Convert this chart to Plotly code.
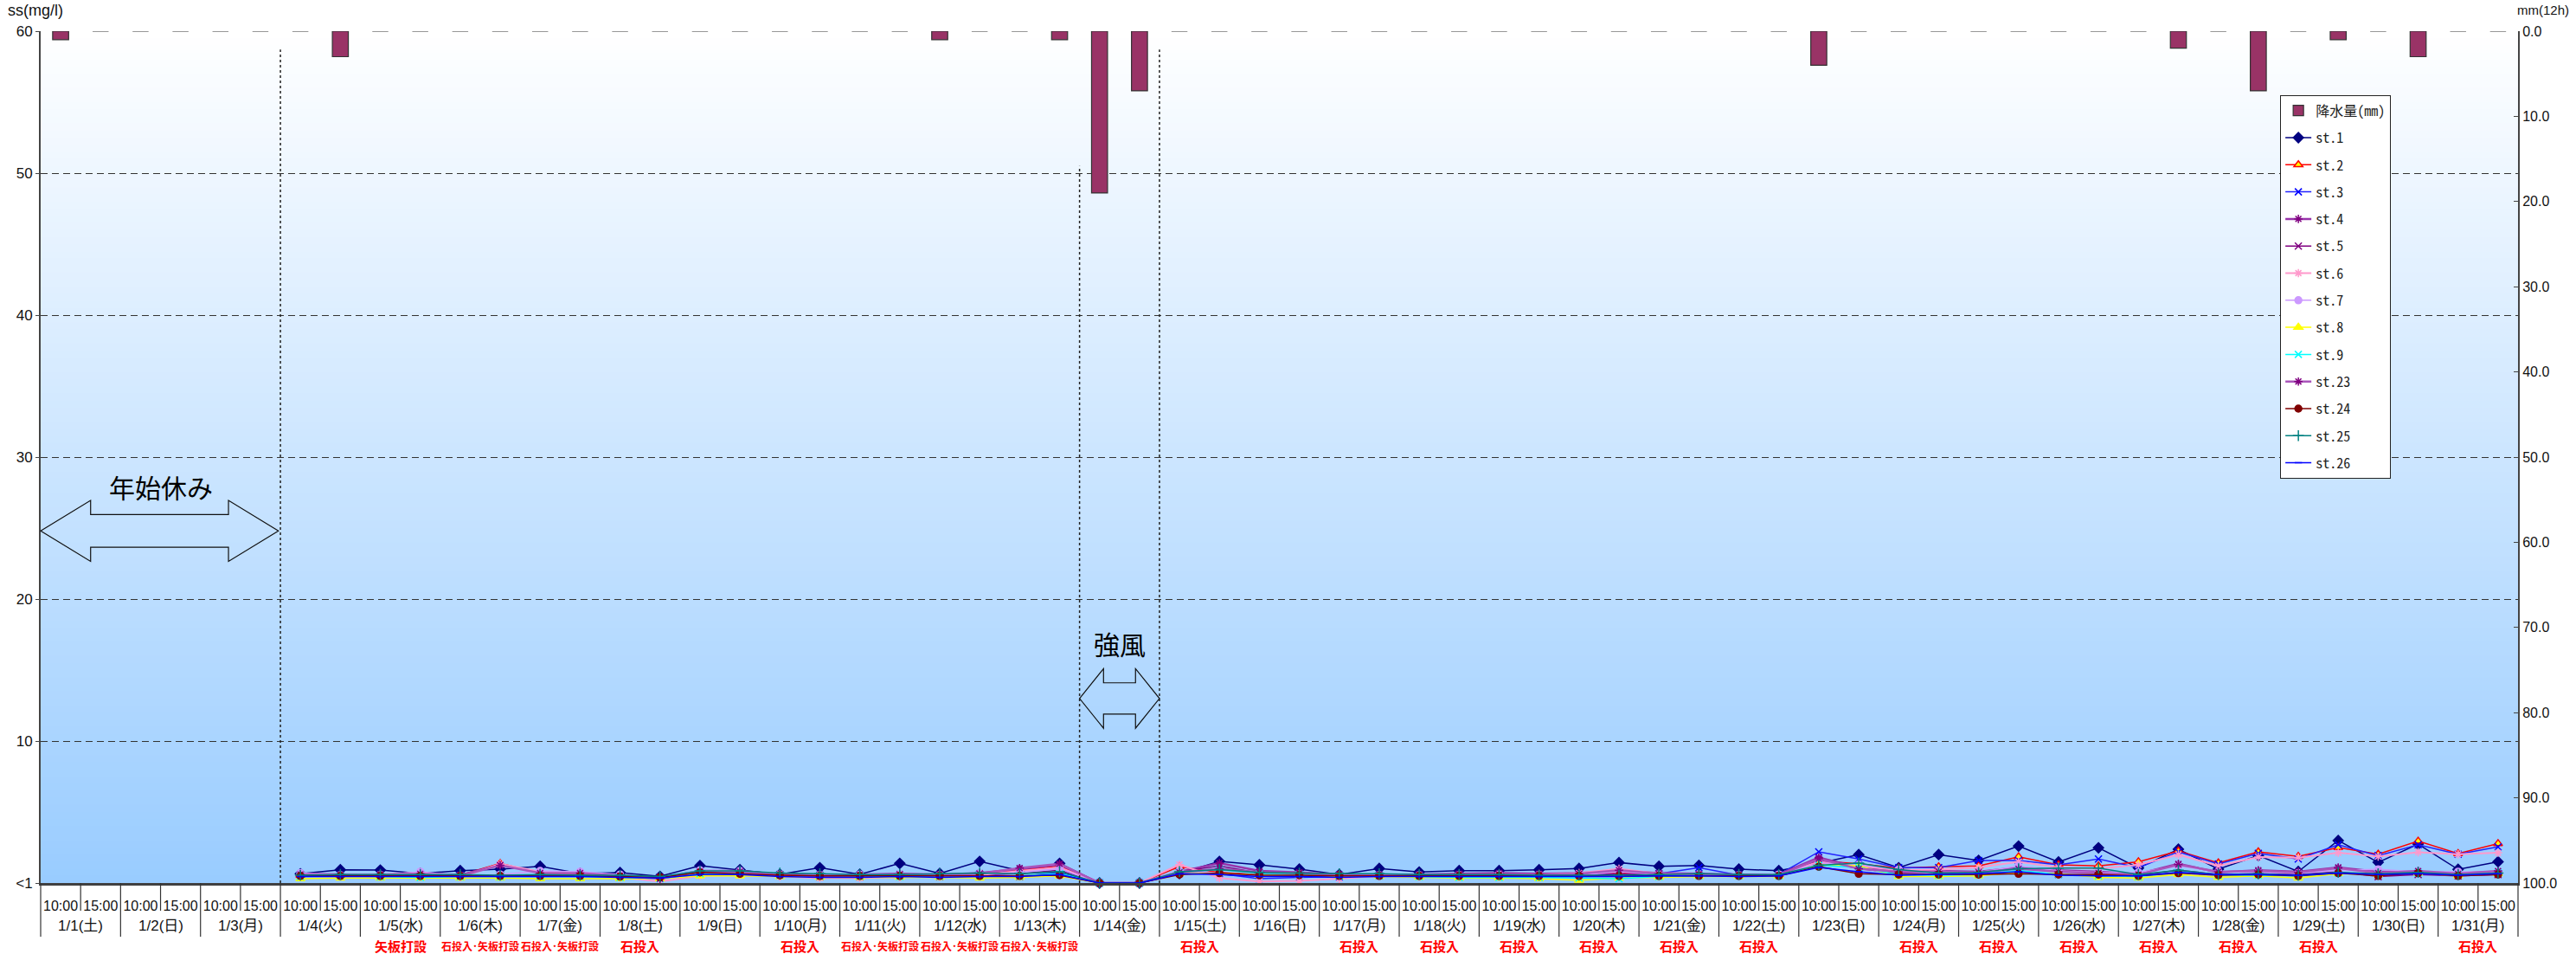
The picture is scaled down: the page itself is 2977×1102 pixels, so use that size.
import plotly.graph_objects as go

# ---------------- data ----------------
dates = ["1/1(土)", "1/2(日)", "1/3(月)", "1/4(火)", "1/5(水)", "1/6(木)", "1/7(金)", "1/8(土)",
         "1/9(日)", "1/10(月)", "1/11(火)", "1/12(水)", "1/13(木)", "1/14(金)", "1/15(土)", "1/16(日)",
         "1/17(月)", "1/18(火)", "1/19(水)", "1/20(木)", "1/21(金)", "1/22(土)", "1/23(日)", "1/24(月)",
         "1/25(火)", "1/26(水)", "1/27(木)", "1/28(金)", "1/29(土)", "1/30(日)", "1/31(月)"]
times = ["10:00", "15:00"]
works = ["", "", "", "", "矢板打設", "石投入･矢板打設", "石投入･矢板打設", "石投入",
         "", "石投入", "石投入･矢板打設", "石投入･矢板打設", "石投入･矢板打設", "", "石投入", "",
         "石投入", "石投入", "石投入", "石投入", "石投入", "石投入", "", "石投入",
         "石投入", "石投入", "石投入", "石投入", "石投入", "", "石投入"]

N = None
precip = [1.0, 0, 0, 0, 0, 0, 0, 3.0, 0, 0, 0, 0, 0, 0, 0, 0,
          0, 0, 0, 0, 0, 0, 1.0, 0, 0, 1.0, 19.0, 7.0, 0, 0, 0, 0,
          0, 0, 0, 0, 0, 0, 0, 0, 0, 0, 0, 0, 4.0, 0, 0, 0,
          0, 0, 0, 0, 0, 2.0, 0, 7.0, 0, 1.0, 0, 3.0, 0, 0]

st1 = [N]*6 + [0.65, 0.93, 0.91, 0.67, 0.87, 0.98, 1.18, 0.67, 0.73, 0.47, 1.22, 0.93, 0.61, 1.08,
               0.61, 1.38, 0.67, 1.52, 0.87, 1.38, 0, 0, 0.67, 1.52, 1.28, 0.98, 0.6, 1.02, 0.77, 0.87,
               0.87, 0.93, 1.02, 1.44, 1.18, 1.24, 0.98, 0.87, 1.4, 2.0, 1.08, 2.0, 1.59, 2.6, 1.48, 2.48,
               1.06, 2.38, 0.98, 1.93, 0.81, 2.99, 1.46, 2.74, 0.96, 1.5]
st2 = [N]*6 + [0.55, 0.5, 0.55, 0.6, 0.55, 1.38, 0.7, 0.65, 0.5, 0.4, 0.8, 0.75, 0.6, 0.5,
               0.55, 0.55, 0.55, 0.65, 0.9, 1.2, 0, 0, 1.15, 0.75, 0.6, 0.55, 0.6, 0.55, 0.5, 0.55,
               0.6, 0.6, 0.6, 0.7, 0.6, 0.6, 0.55, 0.6, 1.55, 1.35, 1.05, 1.15, 1.2, 1.85, 1.28, 1.2,
               1.5, 2.25, 1.42, 2.2, 1.87, 2.5, 2.03, 2.95, 2.07, 2.78]
st3 = [N]*6 + [0.5, 0.55, 0.5, 0.55, 0.55, 0.5, 0.5, 0.5, 0.45, 0.4, 0.7, 0.75, 0.55, 0.45,
               0.45, 0.5, 0.45, 0.6, 0.45, 0.75, 0, 0, 0.7, 0.65, 0.3, 0.4, 0.45, 0.5, 0.5, 0.5,
               0.5, 0.55, 0.6, 0.6, 0.65, 1.08, 0.55, 0.6, 2.2, 1.69, 1.08, 1.08, 1.59, 1.59, 1.28, 1.69,
               1.08, 2.2, 1.34, 2.09, 1.69, 2.7, 1.93, 2.7, 2.03, 2.54]
st4 = [N]*6 + [0.65, 0.6, 0.55, 0.7, 0.55, 1.3, 0.75, 0.7, 0.55, 0.35, 0.85, 0.85, 0.6, 0.6,
               0.6, 0.65, 0.6, 0.7, 1.0, 1.3, 0, 0, 0.8, 1.4, 0.85, 0.75, 0.6, 0.6, 0.6, 0.65,
               0.7, 0.65, 0.7, 0.85, 0.7, 0.65, 0.6, 0.6, 1.8, 1.1, 0.9, 0.85, 0.8, 1.1, 0.9, 0.8,
               0.65, 1.35, 0.75, 0.9, 0.8, 1.1, 0.8, 0.8, 0.7, 0.8]
st5 = [N]*6 + [0.55, 0.5, 0.5, 0.55, 0.5, 0.55, 0.55, 0.55, 0.45, 0.4, 0.7, 0.75, 0.6, 0.55,
               0.5, 0.55, 0.55, 0.6, 0.65, 0.9, 0, 0, 0.8, 1.2, 0.7, 0.65, 0.55, 0.55, 0.55, 0.6,
               0.6, 0.55, 0.6, 0.65, 0.6, 0.55, 0.55, 0.55, 1.6, 1.0, 0.7, 0.6, 0.6, 0.8, 0.6, 0.5,
               0.55, 0.9, 0.6, 0.65, 0.6, 0.8, 0.45, 0.6, 0.5, 0.6]
st6 = [N]*6 + [0.6, 0.55, 0.6, 0.75, 0.4, 1.35, 0.8, 0.75, 0.4, 0.1, 0.5, 0.55, 0.45, 0.35,
               0.35, 0.4, 0.45, 0.55, 0.85, 1.1, 0, 0, 1.3, 0.35, 0.1, 0.15, 0.3, 0.5, 0.45, 0.45,
               0.55, 0.6, 0.7, 1.0, 0.65, 0.6, 0.5, 0.6, 1.5, 1.2, 0.9, 0.95, 1.1, 1.5, 1.1, 1.0,
               1.28, 2.0, 1.2, 1.83, 1.79, 2.13, 1.87, 2.17, 2.03, 2.13]
st7 = [N]*6 + [0.7, 0.55, 0.55, 0.8, 0.5, 0.6, 0.85, 0.8, 0.6, 0.3, 0.9, 0.85, 0.6, 0.55,
               0.6, 0.6, 0.55, 0.65, 0.75, 1.0, 0, 0, 0.85, 0.7, 0.55, 0.6, 0.5, 0.55, 0.55, 0.55,
               0.6, 0.55, 0.55, 0.8, 0.6, 0.55, 0.55, 0.6, 1.4, 1.3, 0.95, 0.7, 0.75, 1.2, 0.85, 0.75,
               0.75, 1.2, 0.8, 0.75, 0.7, 0.9, 0.96, 0.8, 0.8, 0.75]
st8 = [N]*6 + [0.3, 0.35, 0.35, 0.35, 0.35, 0.35, 0.3, 0.3, 0.3, 0.3, 0.5, 0.5, 0.45, 0.4,
               0.4, 0.4, 0.4, 0.35, 0.4, 0.5, 0, 0, 0.65, 0.7, 0.55, 0.6, 0.45, 0.45, 0.4, 0.35,
               0.35, 0.3, 0.2, 0.35, 0.4, 0.45, 0.45, 0.45, 1.3, 1.2, 0.45, 0.45, 0.5, 0.75, 0.65, 0.4,
               0.35, 0.6, 0.4, 0.5, 0.35, 0.65, 0.6, 0.7, 0.5, 0.65]
st9 = [N]*6 + [0.45, 0.5, 0.45, 0.4, 0.45, 0.45, 0.45, 0.45, 0.4, 0.3, 0.65, 0.7, 0.55, 0.5,
               0.5, 0.45, 0.5, 0.5, 0.5, 0.65, 0, 0, 0.75, 0.95, 0.65, 0.6, 0.5, 0.5, 0.45, 0.4,
               0.4, 0.4, 0.35, 0.3, 0.45, 0.5, 0.5, 0.5, 1.25, 1.1, 0.6, 0.55, 0.6, 0.9, 0.6, 0.5,
               0.45, 0.75, 0.55, 0.55, 0.5, 0.7, 0.65, 0.7, 0.6, 0.7]
st23 = [N]*6 + [0.6, 0.55, 0.6, 0.65, 0.5, 1.25, 0.7, 0.7, 0.5, 0.3, 0.8, 0.8, 0.55, 0.5,
                0.55, 0.6, 0.55, 0.65, 1.05, 1.35, 0, 0, 0.75, 1.0, 0.75, 0.7, 0.55, 0.55, 0.55, 0.6,
                0.6, 0.6, 0.65, 0.9, 0.65, 0.6, 0.55, 0.55, 1.7, 1.0, 0.8, 0.8, 0.75, 1.0, 0.8, 0.7,
                0.6, 1.3, 0.8, 0.85, 0.75, 1.05, 0.7, 0.85, 0.65, 0.85]
st24 = [N]*6 + [0.5, 0.5, 0.5, 0.5, 0.5, 0.5, 0.5, 0.5, 0.45, 0.4, 0.75, 0.65, 0.55, 0.5,
                0.5, 0.5, 0.5, 0.5, 0.5, 0.55, 0, 0, 0.6, 0.7, 0.55, 0.55, 0.5, 0.5, 0.5, 0.5,
                0.5, 0.5, 0.5, 0.5, 0.5, 0.5, 0.5, 0.5, 1.15, 0.65, 0.6, 0.6, 0.6, 0.65, 0.6, 0.6,
                0.5, 0.7, 0.55, 0.6, 0.5, 0.7, 0.5, 0.7, 0.5, 0.6]
st25 = [N]*6 + [0.55, 0.6, 0.6, 0.6, 0.6, 0.55, 0.6, 0.55, 0.55, 0.45, 0.85, 0.85, 0.7, 0.65,
                0.6, 0.6, 0.65, 0.7, 0.65, 0.8, 0, 0, 0.8, 0.95, 0.75, 0.7, 0.65, 0.65, 0.6, 0.6,
                0.6, 0.55, 0.55, 0.55, 0.6, 0.65, 0.6, 0.6, 1.25, 1.4, 0.95, 0.7, 0.75, 1.0, 1.05, 1.05,
                0.6, 0.9, 0.6, 0.65, 0.55, 0.75, 0.65, 0.75, 0.6, 0.7]
st26 = [N]*6 + [0.45, 0.45, 0.45, 0.45, 0.45, 0.45, 0.45, 0.45, 0.4, 0.35, 0.6, 0.6, 0.45, 0.4,
                0.4, 0.45, 0.4, 0.45, 0.45, 0.6, 0, 0, 0.65, 0.6, 0.45, 0.45, 0.4, 0.45, 0.45, 0.45,
                0.45, 0.45, 0.45, 0.45, 0.5, 0.5, 0.45, 0.5, 1.1, 0.8, 0.55, 0.6, 0.65, 0.8, 0.55, 0.5,
                0.5, 0.75, 0.6, 0.6, 0.55, 0.7, 0.6, 0.65, 0.55, 0.65]

station_names = ["st.1", "st.2", "st.3", "st.4", "st.5", "st.6", "st.7", "st.8", "st.9",
                 "st.23", "st.24", "st.25", "st.26"]
station_values = [st1, st2, st3, st4, st5, st6, st7, st8, st9, st23, st24, st25, st26]

y_ticks = [0, 10, 20, 30, 40, 50, 60]
y_ticktext = ["<1", "10", "20", "30", "40", "50", "60"]
y2_ticks = [0, 10, 20, 30, 40, 50, 60, 70, 80, 90, 100]

# ---------------- styles ----------------
styles = [
    dict(lc="#000080", lw=1.5, sym="diamond", mc="#000080", ml="#000080", ms=9),
    dict(lc="#FF0000", lw=1.5, sym="triangle-up", mc="#FFFF00", ml="#FF0000", ms=9),
    dict(lc="#2222FF", lw=1.5, sym="x-thin-open", mc="#0000FF", ml="#0000FF", ms=8),
    dict(lc="#9933AA", lw=2.5, sym="asterisk-open", mc="#800080", ml="#800080", ms=8),
    dict(lc="#800080", lw=1.5, sym="x-thin-open", mc="#800080", ml="#800080", ms=8),
    dict(lc="#FF99CC", lw=2, sym="asterisk-open", mc="#FF99CC", ml="#FF99CC", ms=8),
    dict(lc="#CC99FF", lw=1.5, sym="circle", mc="#CC99FF", ml="#CC99FF", ms=8),
    dict(lc="#FFFF00", lw=1.5, sym="triangle-up", mc="#FFFF00", ml="#FFFF00", ms=9),
    dict(lc="#00FFFF", lw=1.5, sym="x-thin-open", mc="#00FFFF", ml="#00FFFF", ms=8),
    dict(lc="#AA55BB", lw=2.5, sym="asterisk-open", mc="#800080", ml="#800080", ms=8),
    dict(lc="#800000", lw=1.5, sym="circle", mc="#800000", ml="#800000", ms=8),
    dict(lc="#008080", lw=1.5, sym="cross-thin-open", mc="#008080", ml="#008080", ms=9),
    dict(lc="#0000FF", lw=1.5, sym="line-ew-open", mc="#0000FF", ml="#0000FF", ms=6),
]

cats = [f"{d} {t}" for d in dates for t in times]
ncat = len(cats)

def px(i):
    """paper x for a (fractional) category index"""
    return (i + 0.5) / ncat

FONT = "Liberation Sans, Arial, Noto Sans CJK JP, sans-serif"
JFONT = "Noto Sans CJK JP, sans-serif"

fig = go.Figure()

fig.add_trace(go.Bar(
    x=cats, y=precip, yaxis="y2", name="降水量(mm)", width=0.4,
    marker=dict(color="#993366", line=dict(color="#333333", width=1.2)),
    legendgroup="p"))

for name, vals, s in zip(station_names, station_values, styles):
    fig.add_trace(go.Scatter(
        x=cats, y=vals, name=name, mode="lines+markers", cliponaxis=False,
        line=dict(color=s["lc"], width=s["lw"]),
        marker=dict(symbol=s["sym"], size=s["ms"], color=s["mc"],
                    line=dict(color=s["ml"], width=1.5)),
        legendgroup=name))

# ---------------- background gradient ----------------
shapes = []
nb = 120
top = (255, 255, 255)
bot = (153, 204, 255)
for k in range(nb):
    f = (k + 0.5) / nb
    c = tuple(round(bot[j] + (top[j] - bot[j]) * f) for j in range(3))
    shapes.append(dict(type="rect", xref="paper", yref="paper", x0=0, x1=1,
                       y0=k / nb, y1=min(1, (k + 1.8) / nb), fillcolor="rgb(%d,%d,%d)" % c,
                       line=dict(width=0), layer="below"))

# dotted vertical lines
for xb, ytop in [(5.5, 58.7), (25.5, 50.5), (27.5, 58.7)]:
    shapes.append(dict(type="line", xref="paper", yref="y", x0=px(xb), x1=px(xb),
                       y0=0, y1=ytop, line=dict(color="#222222", width=1.5, dash="3px,3px")))

# x-axis separators
plot_h = 1102 - 36 - 82
for d in range(len(dates)):
    xb = 2 * d - 0.5
    shapes.append(dict(type="line", xref="paper", yref="paper", x0=px(xb), x1=px(xb),
                       y0=0, y1=-62 / plot_h, line=dict(color="#333333", width=1.2)))
    shapes.append(dict(type="line", xref="paper", yref="paper", x0=px(xb + 1), x1=px(xb + 1),
                       y0=0, y1=-32 / plot_h, line=dict(color="#333333", width=1.2)))
shapes.append(dict(type="line", xref="paper", yref="paper", x0=1, x1=1,
                   y0=0, y1=-62 / plot_h, line=dict(color="#333333", width=1.2)))

# double arrows
def darrow(xl, xr, yc, head, hh, sh):
    pts = [(xl, yc), (xl + head, yc + hh), (xl + head, yc + sh), (xr - head, yc + sh),
           (xr - head, yc + hh), (xr, yc), (xr - head, yc - hh), (xr - head, yc - sh),
           (xl + head, yc - sh), (xl + head, yc - hh)]
    path = "M " + " L ".join(f"{px(x):.5f},{y:.3f}" for x, y in pts) + " Z"
    return dict(type="path", xref="paper", yref="y", path=path,
                fillcolor="rgba(255,255,255,0)", line=dict(color="#111111", width=1.2))

shapes.append(darrow(-0.5, 5.45, 24.8, 1.25, 2.15, 1.15))
shapes.append(darrow(25.5, 27.5, 13.0, 0.6, 2.1, 1.1))

# ---------------- annotations ----------------
ann = []
for d, lab in enumerate(dates):
    ann.append(dict(text=lab, xref="paper", yref="paper", x=px(2 * d + 0.5), y=-49 / plot_h,
                    showarrow=False, xanchor="center", yanchor="middle",
                    font=dict(family=FONT, size=17, color="#111")))
for d, w in enumerate(works):
    if w:
        size = 12 if len(w) > 4 else 15
        ann.append(dict(text="<b>" + w + "</b>", xref="paper", yref="paper", x=px(2 * d + 0.5),
                        y=-72 / plot_h, showarrow=False, xanchor="center", yanchor="middle",
                        font=dict(family=JFONT, size=size, color="#FF0000")))
ann.append(dict(text="年始休み", xref="paper", yref="y", x=px(2.5), y=27.9, showarrow=False,
                xanchor="center", yanchor="middle", font=dict(family=JFONT, size=30, color="#000")))
ann.append(dict(text="強風", xref="paper", yref="y", x=px(26.5), y=16.9, showarrow=False,
                xanchor="center", yanchor="middle", font=dict(family=JFONT, size=30, color="#000")))
ann.append(dict(text="ss(mg/l)", xref="paper", yref="paper", x=0, y=1, yanchor="bottom",
                xanchor="center", xshift=-6, yshift=12, showarrow=False,
                font=dict(family=FONT, size=18, color="#111")))
ann.append(dict(text="mm(12h)", xref="paper", yref="paper", x=1, y=1, yanchor="bottom",
                xanchor="left", xshift=-3, yshift=14, showarrow=False,
                font=dict(family=FONT, size=15, color="#111")))

fig.update_layout(
    width=2977, height=1102,
    margin=dict(l=47, r=67, t=36, b=82),
    paper_bgcolor="white", plot_bgcolor="rgba(0,0,0,0)",
    shapes=shapes, annotations=ann,
    bargap=0.6, showlegend=True,
    legend=dict(x=0.904, y=0.925, xanchor="left", yanchor="top", bgcolor="white",
                bordercolor="#222", borderwidth=1, tracegroupgap=7.5,
                font=dict(family="Noto Sans Mono CJK JP, DejaVu Sans Mono, monospace", size=16, color="#222")),
    xaxis=dict(type="category", categoryorder="array", categoryarray=cats,
               range=[-0.5, ncat - 0.5], tickvals=cats, automargin=False,
               ticktext=[t for _ in dates for t in times], tickangle=0,
               ticks="", showgrid=False, showline=True, linecolor="#404040", linewidth=3,
               tickfont=dict(family=FONT, size=16, color="#111"), ticklabelstandoff=10),
    yaxis=dict(range=[0, 60], tickvals=y_ticks, ticktext=y_ticktext, showgrid=True, automargin=False,
               gridcolor="#333333", gridwidth=1.3, griddash="8px,5px", zeroline=False,
               showline=True, linecolor="#444", linewidth=2, ticks="outside", ticklen=4,
               tickcolor="#444", tickfont=dict(family=FONT, size=17, color="#111")),
    yaxis2=dict(overlaying="y", side="right", range=[100, 0], tickvals=y2_ticks, automargin=False,
                ticktext=[f"{v:.1f}" for v in y2_ticks], showgrid=False, zeroline=False,
                showline=True, linecolor="#444", linewidth=2, ticks="inside", ticklen=5,
                tickcolor="#444", tickfont=dict(family=FONT, size=16, color="#111")),
)

fig.write_html("out.html", config={"displayModeBar": False},
               post_script="document.body.style.margin='0px';")
